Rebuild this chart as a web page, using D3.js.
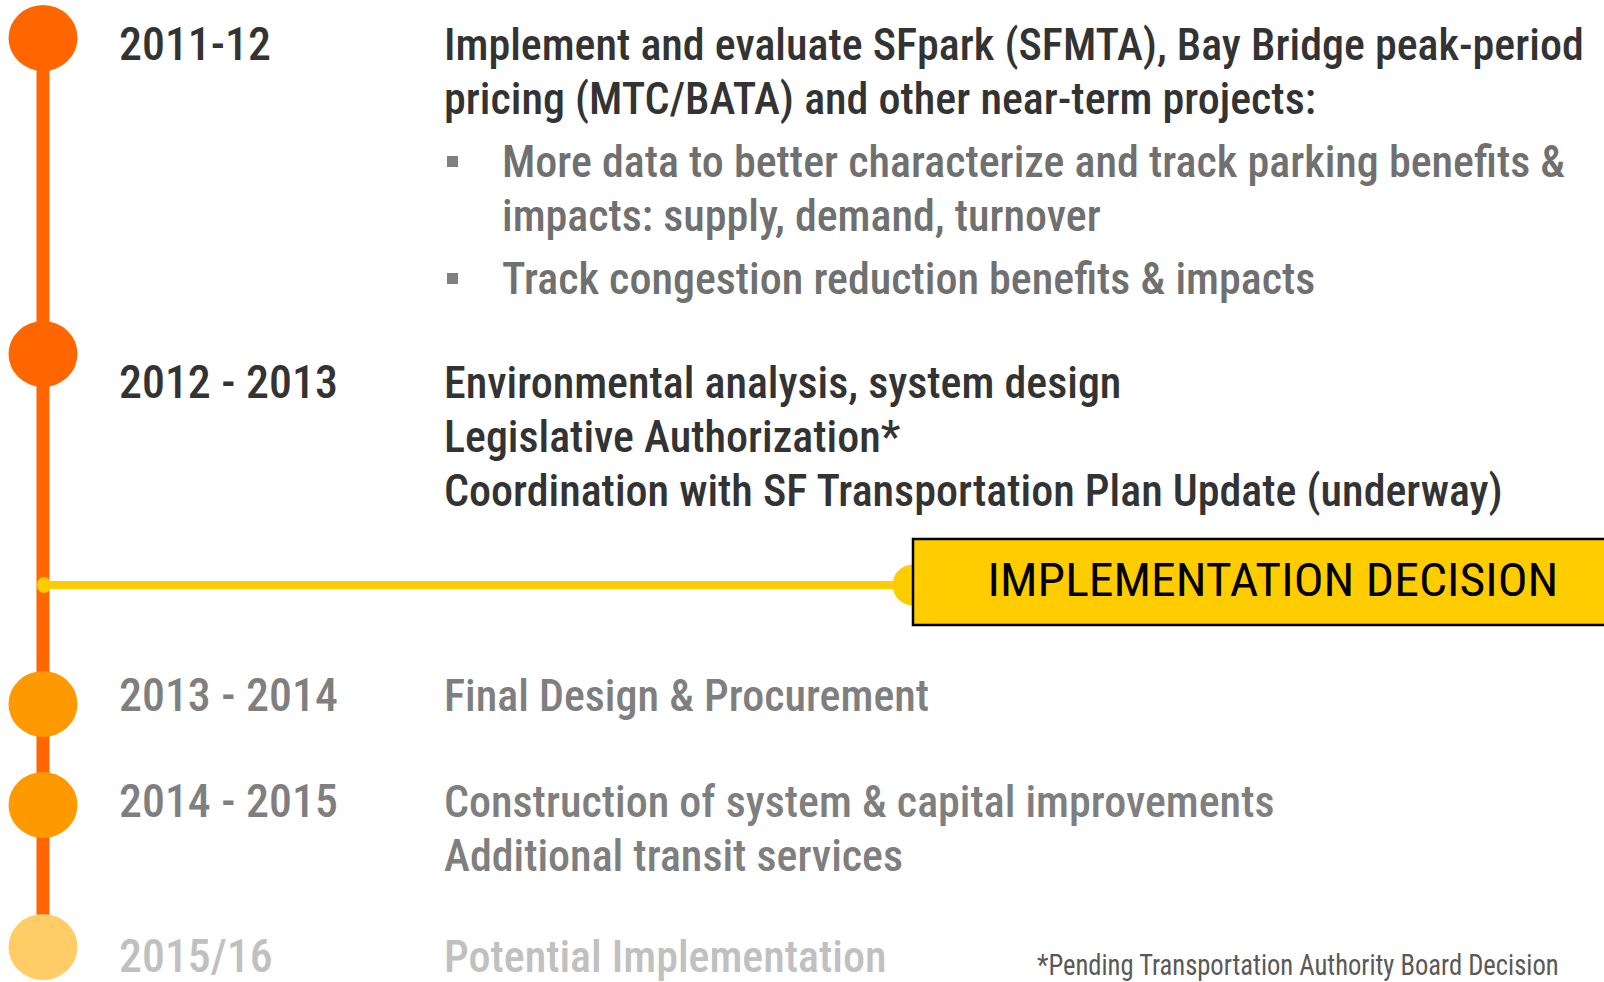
<!DOCTYPE html>
<html>
<head>
<meta charset="utf-8">
<script src="https://cdn.jsdelivr.net/npm/d3@7"></script>
<style>
  body { margin: 0; background: #fff; }
  svg { display: block; }
</style>
</head>
<body>
<script>
// timeline data
const periods = ["2011-12", "2012 - 2013", "2013 - 2014", "2014 - 2015", "2015/16"];
const phase = ["active", "active", "next", "next", "potential"];
const tasks = [
  ["Implement and evaluate SFpark (SFMTA), Bay Bridge peak-period", "pricing (MTC/BATA) and other near-term projects:"],
  ["Environmental analysis, system design", "Legislative Authorization*", "Coordination with SF Transportation Plan Update (underway)"],
  ["Final Design & Procurement"],
  ["Construction of system & capital improvements", "Additional transit services"],
  ["Potential Implementation"]
];
const subTasks = [
  [["More data to better characterize and track parking benefits &", "impacts: supply, demand, turnover"],
   ["Track congestion reduction benefits & impacts"]],
  [], [], [], []
];
const decisionLabel = "IMPLEMENTATION DECISION";
const footnote = "*Pending Transportation Authority Board Decision";

const width = 1604;
const height = 982;
const spineX = 43;
const yearX = 119;
const taskX = 444;
const bulletX = 447;
const subX = 502;
const lineH = 54;
const itemGap = 63;
const decisionY = 585;
const boxX = 913;

const font = "'Liberation Sans Narrow', 'Arial Narrow', 'Roboto Condensed', 'DejaVu Sans Condensed', Roboto, 'Liberation Sans', sans-serif";

const dotY = d3.scaleOrdinal().domain(periods).range([38, 354, 704, 805, 947]);
const textY = d3.scaleOrdinal().domain(periods).range([60, 398, 711, 817, 972]);
const dotColor = d3.scaleOrdinal().domain(["active", "next", "potential"]).range(["#ff6600", "#ff9900", "#ffcc66"]);
const textColor = d3.scaleOrdinal().domain(["active", "next", "potential"]).range(["#333333", "#7f7f7f", "#c0c0c0"]);

const svg = d3.select("body").append("svg")
    .attr("width", width)
    .attr("height", height);

// measure natural width so the condensed look can be matched
function measure(text, size, weight) {
  const t = svg.append("text")
      .attr("font-family", font)
      .attr("font-size", size)
      .attr("font-weight", weight)
      .text(text);
  const w = t.node().getComputedTextLength();
  t.remove();
  return w;
}

// lay out text lines
const lines = [];
const bullets = [];
periods.forEach((p, i) => {
  const col = textColor(phase[i]);
  lines.push({group: "year", text: p, x: yearX, y: textY(p), fill: col});
  let y = textY(p);
  tasks[i].forEach((t, k) => {
    if (k) y += lineH;
    lines.push({group: "task", text: t, x: taskX, y: y, fill: col});
  });
  subTasks[i].forEach(item => {
    y += itemGap;
    bullets.push(y);
    item.forEach((t, k) => {
      if (k) y += lineH;
      lines.push({group: "task", text: t, x: subX, y: y, fill: "#707070"});
    });
  });
});

const sizes = {year: 46, task: 44};
const weight = 500;
const squeeze = {
  year: 219 / measure(periods[2], sizes.year, weight),
  task: 1140 / measure(tasks[0][0], sizes.task, weight)
};

// spine
svg.append("line")
    .attr("x1", spineX).attr("x2", spineX)
    .attr("y1", dotY(periods[0]))
    .attr("y2", dotY(periods[periods.length - 1]))
    .attr("stroke", "#ff6600")
    .attr("stroke-width", 13);

// decision connector
svg.append("line")
    .attr("x1", spineX).attr("x2", boxX)
    .attr("y1", decisionY).attr("y2", decisionY)
    .attr("stroke", "#ffcc00")
    .attr("stroke-width", 8);

svg.append("ellipse")
    .attr("cx", spineX + 1).attr("cy", decisionY)
    .attr("rx", 7).attr("ry", 8)
    .attr("fill", "#ffcc00");

svg.append("circle")
    .attr("cx", boxX).attr("cy", decisionY)
    .attr("r", 20.5)
    .attr("fill", "#ffcc00");

svg.append("rect")
    .attr("x", boxX).attr("y", 539)
    .attr("width", 720).attr("height", 86)
    .attr("fill", "#ffcc00")
    .attr("stroke", "#000")
    .attr("stroke-width", 2.5);

const labelSize = 46;
svg.append("text")
    .attr("font-family", font)
    .attr("font-size", labelSize)
    .attr("text-anchor", "middle")
    .attr("fill", "#000")
    .attr("transform", `translate(1273, 596) scale(${571 / measure(decisionLabel, labelSize, 400)}, 1)`)
    .text(decisionLabel);

// milestone dots
svg.append("g")
  .selectAll("ellipse")
  .data(periods)
  .join("ellipse")
    .attr("cx", spineX)
    .attr("cy", d => dotY(d))
    .attr("rx", 34.5)
    .attr("ry", 33)
    .attr("fill", (d, i) => dotColor(phase[i]));

// bullet squares
svg.append("g")
  .selectAll("rect")
  .data(bullets)
  .join("rect")
    .attr("x", bulletX)
    .attr("y", d => d - 21)
    .attr("width", 11)
    .attr("height", 11)
    .attr("fill", "#808080");

// labels
svg.append("g")
  .selectAll("text")
  .data(lines)
  .join("text")
    .attr("font-family", font)
    .attr("font-size", d => sizes[d.group])
    .attr("font-weight", weight)
    .attr("fill", d => d.fill)
    .attr("transform", d => `translate(${d.x}, ${d.y}) scale(${squeeze[d.group]}, 1)`)
    .text(d => d.text);

// footnote
const noteSize = 29;
svg.append("text")
    .attr("font-family", font)
    .attr("font-size", noteSize)
    .attr("fill", "#595959")
    .attr("transform", `translate(1037, 975) scale(${522 / measure(footnote, noteSize, 400)}, 1)`)
    .text(footnote);
</script>
</body>
</html>
